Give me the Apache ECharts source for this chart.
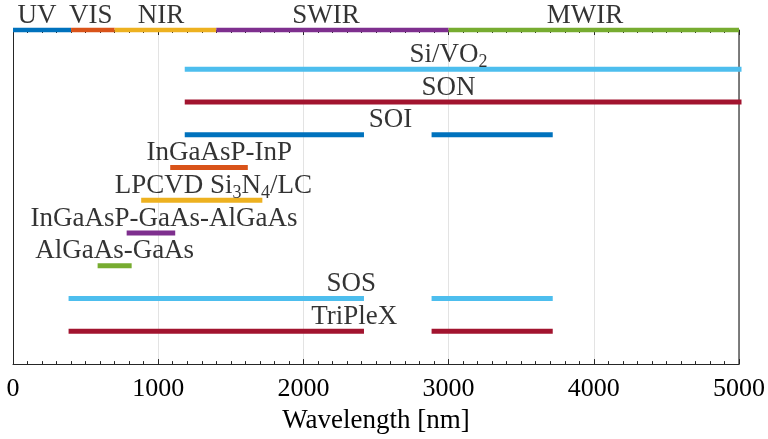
<!DOCTYPE html>
<html>
<head>
<meta charset="utf-8">
<script src="https://cdn.jsdelivr.net/npm/echarts@6/dist/echarts.min.js"></script>
<style>
  html, body { margin: 0; padding: 0; background: #fff; }
  #chart { width: 768px; height: 439px; }
</style>
</head>
<body>
<div id="chart"></div>
<script>
// Spectral bands along the top edge [start, end] in nm
const bandNames = ['UV', 'VIS', 'NIR', 'SWIR', 'MWIR'];
const bandRanges = [[0, 400], [400, 700], [700, 1400], [1400, 3000], [3000, 5000]];
const bandColors = ['#0072BD', '#D95319', '#EDB120', '#7E2F8E', '#77AC30'];
const bandLabelX = [165, 535, 1020, 2155, 3940];

// Waveguide platforms, bottom row first; each has one or more transparency windows
const platforms = ['TriPleX', 'SOS', 'AlGaAs-GaAs', 'InGaAsP-GaAs-AlGaAs',
                   'LPCVD Si3N4/LC', 'InGaAsP-InP', 'SOI', 'SON', 'Si/VO2'];
const platformText = ['TriPleX', 'SOS', 'AlGaAs-GaAs', 'InGaAsP-GaAs-AlGaAs',
                      'LPCVD Si{sub|3}N{sub|4}/LC', 'InGaAsP-InP', 'SOI', 'SON', 'Si/VO{sub|2}'];
const triplexRanges = [[400, 2400], [2900, 3700]];
const sosRanges = [[400, 2400], [2900, 3700]];
const algaasGaasRanges = [[600, 800]];
const ingaaspGaasRanges = [[800, 1100]];
const lpcvdRanges = [[900, 1700]];
const ingaaspInpRanges = [[1100, 1600]];
const soiRanges = [[1200, 2400], [2900, 3700]];
const sonRanges = [[1200, 5000]];
const sivo2Ranges = [[1200, 5000]];
const platformRanges = [triplexRanges, sosRanges, algaasGaasRanges, ingaaspGaasRanges,
                        lpcvdRanges, ingaaspInpRanges, soiRanges, sonRanges, sivo2Ranges];
const platformColors = ['#A2142F', '#4DBEEE', '#77AC30', '#7E2F8E',
                        '#EDB120', '#D95319', '#0072BD', '#A2142F', '#4DBEEE'];
const platformLabelX = [2350, 2330, 700, 1040, 1380, 1420, 2600, 3000, 3000];

const xTicks = [0, 1000, 2000, 3000, 4000, 5000];
const bandRow = 10.2;

const FONT = 'Liberation Serif';
const INK = '#000';

const series = [];

// Platform windows, one line per window
platformRanges.forEach((ranges, row) => {
  ranges.forEach(r => {
    series.push({
      type: 'line', silent: true, symbol: 'none', clip: true, z: 3,
      data: [[r[0], row + 1], [r[1], row + 1]],
      lineStyle: { width: 5, color: platformColors[row], cap: 'square' }
    });
  });
});

// Band strip on the top edge
bandRanges.forEach((r, i) => {
  series.push({
    type: 'line', silent: true, symbol: 'none', clip: false, z: 4,
    data: [[r[0], bandRow], [r[1], bandRow]],
    lineStyle: { width: 4.5, color: bandColors[i], cap: 'butt' }
  });
});

// Subscripts sit at the bottom of a tall line box, below the main baseline
const richStyles = {
  sub: { fontFamily: FONT, fontSize: 18, color: INK, verticalAlign: 'bottom' }
};

// Platform names
series.push({
  type: 'scatter', silent: true, symbolSize: 0, z: 5,
  data: platformText.map((t, i) => ({ value: [platformLabelX[i], i + 1], name: t })),
  label: {
    show: true, position: 'top', distance: -1.5,
    formatter: p => p.name,
    fontFamily: FONT, fontSize: 27, lineHeight: 32, color: INK,
    rich: richStyles
  }
});

// Band names
series.push({
  type: 'scatter', silent: true, symbolSize: 0, z: 5,
  data: bandNames.map((t, i) => ({ value: [bandLabelX[i], bandRow], name: t })),
  label: {
    show: true, position: 'top', distance: 1,
    formatter: p => p.name,
    fontFamily: FONT, fontSize: 27, color: INK
  }
});

const chart = echarts.init(document.getElementById('chart'), null, { renderer: 'canvas' });
chart.setOption({
  animation: false,
  backgroundColor: '#fff',
  grid: { left: 13, right: 27, top: 30, bottom: 72, containLabel: false },
  xAxis: [
    {
      type: 'value', min: xTicks[0], max: xTicks[xTicks.length - 1], interval: 1000,
      name: 'Wavelength [nm]', nameLocation: 'middle', nameGap: 37,
      nameTextStyle: { fontFamily: FONT, fontSize: 27, color: INK },
      axisLine: { show: true, onZero: false, lineStyle: { color: '#262626', width: 1 } },
      axisTick: { show: true, inside: true, length: 5, lineStyle: { color: '#262626' } },
      minorTick: { show: true, splitNumber: 10, length: 3, lineStyle: { color: '#262626' } },
      axisLabel: { fontFamily: FONT, fontSize: 26, color: INK, margin: 12,
                   formatter: v => xTicks.includes(v) ? String(v) : '' },
      splitLine: { show: true, lineStyle: { color: '#e3e3e3', width: 1 } }
    },
    {
      type: 'value', position: 'top', min: 0, max: 5000, interval: 1000,
      axisLine: { show: false, onZero: false },
      axisTick: { show: true, inside: true, length: 5, lineStyle: { color: '#262626' } },
      minorTick: { show: true, splitNumber: 10, length: 3, lineStyle: { color: '#262626' } },
      axisLabel: { show: false },
      splitLine: { show: false }
    }
  ],
  yAxis: [
    {
      type: 'value', min: 0, max: bandRow, position: 'left',
      axisLine: { show: true, onZero: false, lineStyle: { color: '#262626', width: 1 } },
      axisTick: { show: false }, axisLabel: { show: false }, splitLine: { show: false }
    },
    {
      type: 'value', min: 0, max: bandRow, position: 'right',
      axisLine: { show: true, onZero: false, lineStyle: { color: '#555', width: 1.5 } },
      axisTick: { show: false }, axisLabel: { show: false }, splitLine: { show: false }
    }
  ],
  series: series
});
</script>
</body>
</html>
